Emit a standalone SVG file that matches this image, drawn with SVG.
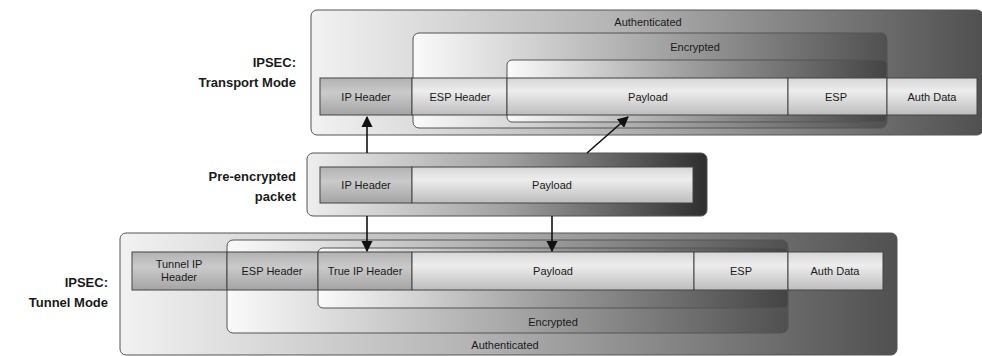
<svg xmlns="http://www.w3.org/2000/svg" width="982" height="356" viewBox="0 0 982 356">
<defs>
<linearGradient id="gOuter" x1="0" y1="0" x2="1" y2="0">
<stop offset="0" stop-color="#f2f2f2"/><stop offset="0.45" stop-color="#b4b4b4"/><stop offset="1" stop-color="#505050"/>
</linearGradient>
<linearGradient id="gPre" x1="0" y1="0" x2="1" y2="0">
<stop offset="0" stop-color="#eeeeee"/><stop offset="0.5" stop-color="#a0a0a0"/><stop offset="1" stop-color="#2e2e2e"/>
</linearGradient>
<linearGradient id="gEnc" x1="0" y1="0" x2="1" y2="0">
<stop offset="0" stop-color="#c8c8c8"/><stop offset="0.5" stop-color="#8e8e8e"/><stop offset="1" stop-color="#555555"/>
</linearGradient>
<linearGradient id="gEncT" x1="0" y1="0" x2="1" y2="0">
<stop offset="0" stop-color="#fafafa"/><stop offset="0.5" stop-color="#a8a8a8"/><stop offset="1" stop-color="#505050"/>
</linearGradient>
<linearGradient id="gInner" x1="0" y1="0" x2="1" y2="0">
<stop offset="0" stop-color="#b0b0b0"/><stop offset="1" stop-color="#3e3e3e"/>
</linearGradient>
<linearGradient id="gInnerT" x1="0" y1="0" x2="1" y2="0">
<stop offset="0" stop-color="#fbfbfb"/><stop offset="0.5" stop-color="#9a9a9a"/><stop offset="1" stop-color="#444444"/>
</linearGradient>
<linearGradient id="gField" x1="0" y1="0" x2="0" y2="1">
<stop offset="0" stop-color="#d6d6d6"/><stop offset="0.35" stop-color="#ededed"/><stop offset="1" stop-color="#bdbdbd"/>
</linearGradient>
<linearGradient id="gHead" x1="0" y1="0" x2="0" y2="1">
<stop offset="0" stop-color="#b2b2b2"/><stop offset="0.4" stop-color="#cacaca"/><stop offset="1" stop-color="#a4a4a4"/>
</linearGradient>
<marker id="arr" viewBox="0 0 10 10" refX="9" refY="5" markerWidth="7" markerHeight="7" orient="auto-start-reverse">
<path d="M0,0 L10,5 L0,10 z" fill="#111"/>
</marker>
</defs>
<style>
.box{stroke:#555;stroke-width:1}
.fld{fill:url(#gField);stroke:#444;stroke-width:1}
.hd{fill:url(#gHead);stroke:#444;stroke-width:1}
.t{font-family:"Liberation Sans",Arial,sans-serif;font-size:11px;fill:#1a1a1a;text-anchor:middle}
.lbl{font-family:"Liberation Sans",Arial,sans-serif;font-size:13px;font-weight:bold;fill:#1a1a1a;text-anchor:end}
.con{stroke:#111;stroke-width:1.6;fill:none;marker-end:url(#arr)}
</style>
<rect width="982" height="356" fill="#ffffff"/>

<g id="transport-label">
<text class="lbl" x="296" y="67">IPSEC:</text>
<text class="lbl" x="296" y="87">Transport Mode</text>
</g>
<g id="transport-authenticated">
<rect class="box" x="311" y="10" width="672" height="125" rx="6" fill="url(#gOuter)"/>
<text class="t" x="648" y="26">Authenticated</text>
</g>
<g id="transport-encrypted">
<rect class="box" x="413" y="33" width="474" height="95" rx="6" fill="url(#gEncT)"/>
<text class="t" x="695" y="51">Encrypted</text>
</g>
<g id="transport-inner">
<rect class="box" x="507" y="60" width="380" height="62" rx="5" fill="url(#gInnerT)"/>
</g>
<g id="transport-fields">
<rect class="hd" x="320" y="78" width="92" height="37"/>
<text class="t" x="366" y="101">IP Header</text>
<rect class="fld" x="412" y="78" width="95" height="37"/>
<text class="t" x="460" y="101">ESP Header</text>
<rect class="fld" x="507" y="78" width="281" height="37"/>
<text class="t" x="648" y="101">Payload</text>
<rect class="fld" x="788" y="78" width="99" height="37"/>
<text class="t" x="836" y="101">ESP</text>
<rect class="fld" x="887" y="78" width="90" height="37"/>
<text class="t" x="932" y="101">Auth Data</text>
</g>

<g id="pre-label">
<text class="lbl" x="296" y="181">Pre-encrypted</text>
<text class="lbl" x="296" y="201">packet</text>
</g>
<g id="pre-packet">
<rect class="box" x="307" y="153" width="400" height="63" rx="6" fill="url(#gPre)"/>
<rect class="hd" x="320" y="167" width="92" height="36"/>
<text class="t" x="366" y="189">IP Header</text>
<rect class="fld" x="412" y="167" width="281" height="36"/>
<text class="t" x="552" y="189">Payload</text>
</g>

<g id="tunnel-label">
<text class="lbl" x="108" y="287">IPSEC:</text>
<text class="lbl" x="108" y="307">Tunnel Mode</text>
</g>
<g id="tunnel-authenticated">
<rect class="box" x="120" y="233" width="777" height="122" rx="6" fill="url(#gOuter)"/>
<text class="t" x="505" y="349">Authenticated</text>
</g>
<g id="tunnel-encrypted">
<rect class="box" x="227" y="240" width="561" height="93" rx="6" fill="url(#gEncT)"/>
<text class="t" x="553" y="326">Encrypted</text>
</g>
<g id="tunnel-inner">
<rect class="box" x="318" y="248" width="470" height="60" rx="5" fill="url(#gInnerT)"/>
</g>
<g id="tunnel-fields">
<rect class="hd" x="132" y="252" width="95" height="38"/>
<text class="t" x="179" y="268">Tunnel IP</text>
<text class="t" x="179" y="281">Header</text>
<rect class="hd" x="227" y="252" width="91" height="38"/>
<text class="t" x="272" y="275">ESP Header</text>
<rect class="hd" x="318" y="252" width="94" height="38"/>
<text class="t" x="365" y="275">True IP Header</text>
<rect class="fld" x="412" y="252" width="282" height="38"/>
<text class="t" x="553" y="275">Payload</text>
<rect class="fld" x="694" y="252" width="94" height="38"/>
<text class="t" x="741" y="275">ESP</text>
<rect class="fld" x="788" y="252" width="95" height="38"/>
<text class="t" x="835" y="275">Auth Data</text>
</g>

<g id="connectors">
<line class="con" x1="367" y1="153" x2="367" y2="117"/>
<line class="con" x1="587" y1="153" x2="628" y2="117"/>
<line class="con" x1="367" y1="216" x2="367" y2="251"/>
<line class="con" x1="552" y1="216" x2="552" y2="251"/>
</g>
</svg>
